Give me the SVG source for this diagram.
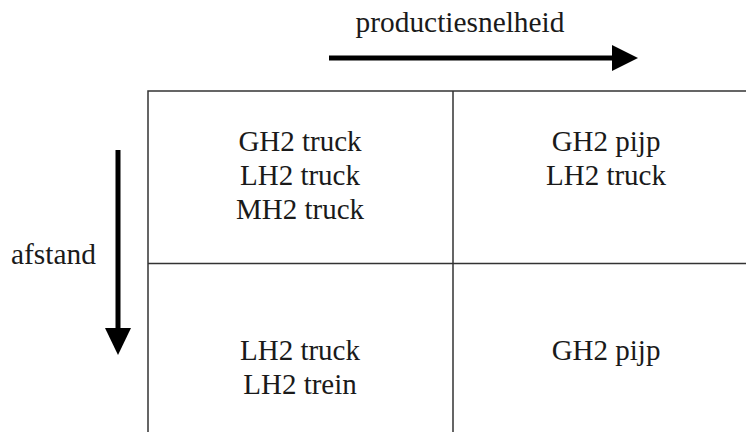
<svg xmlns="http://www.w3.org/2000/svg" width="746" height="432" viewBox="0 0 746 432">
<style>
text{font-family:"Liberation Serif","Times New Roman",serif;font-size:29px;fill:#1a1a1a}
.c{text-anchor:middle}
.grid{stroke:#333;stroke-width:1.5;fill:none}
.arr{stroke:#000;stroke-width:5}
</style>
<rect width="746" height="432" fill="#fff"/>
<g id="axis-x">
<text x="460" y="32" class="c" textLength="209" lengthAdjust="spacingAndGlyphs">productiesnelheid</text>
</g>
<g id="axis-y">
<text x="11" y="264" textLength="85" lengthAdjust="spacingAndGlyphs">afstand</text>
</g>
<g id="connectors">
<line class="arr" x1="329" y1="58" x2="614" y2="58"/>
<polygon points="612,45 638,58 612,71" fill="#000"/>
<line class="arr" x1="118" y1="150" x2="118" y2="330"/>
<polygon points="105,328 131,328 118,355" fill="#000"/>
</g>
<g id="grid">
<path class="grid" d="M148,433 V91 H747 M453,91 V433 M148,263.5 H747"/>
</g>
<g id="cell-tl">
<text x="300" y="151" class="c">GH2 truck</text>
<text x="300" y="185" class="c">LH2 truck</text>
<text x="300" y="219" class="c">MH2 truck</text>
</g>
<g id="cell-tr">
<text x="606" y="151" class="c">GH2 pijp</text>
<text x="606" y="185" class="c">LH2 truck</text>
</g>
<g id="cell-bl">
<text x="300" y="360" class="c">LH2 truck</text>
<text x="300" y="394" class="c">LH2 trein</text>
</g>
<g id="cell-br">
<text x="606" y="360" class="c">GH2 pijp</text>
</g>
</svg>
